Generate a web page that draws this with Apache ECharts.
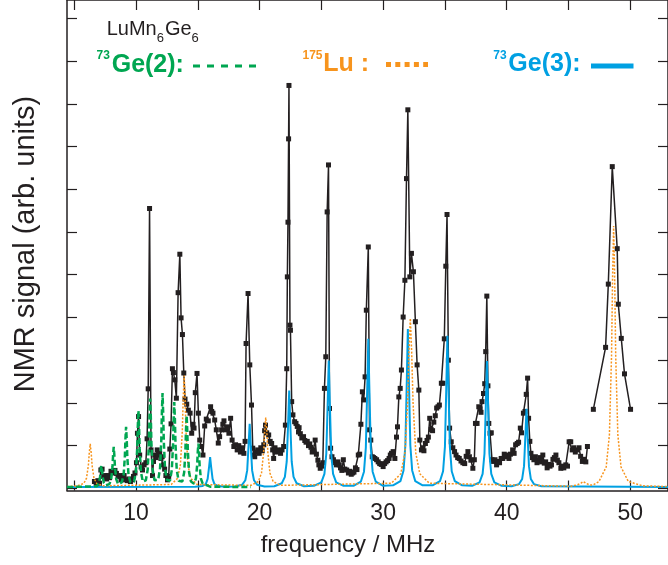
<!DOCTYPE html>
<html>
<head>
<meta charset="utf-8">
<title>LuMn6Ge6 NMR</title>
<script src="https://cdn.jsdelivr.net/npm/echarts@6.0.0/dist/echarts.min.js"></script>
<style>
html, body { margin: 0; padding: 0; background: #fff; }
#chart { width: 668px; height: 565px; }
</style>
</head>
<body>
<div id="chart"></div>
<script>
// measured spectrum, [frequency MHz, signal]
var nmrData = [
  [6.64,0.16],[6.78,0.1],[6.92,0.18],[7.05,0.12],[7.16,0.43],[7.26,0.45],[7.38,0.28],[7.5,0.3],[7.62,0.22],[7.74,0.3],
  [7.86,0.25],[7.98,0.4],[8.06,0.36],[8.18,0.39],[8.3,0.42],[8.42,0.35],[8.55,0.28],[8.67,0.3],[8.79,0.2],[8.92,0.24],
  [9.04,0.3],[9.16,0.2],[9.3,0.18],[9.43,0.22],[9.55,0.16],[9.68,0.2],[9.8,0.28],[9.92,0.36],[10.04,0.6],[10.12,1.29],
  [10.21,1.68],[10.3,0.78],[10.42,0.5],[10.53,0.43],[10.66,0.55],[10.8,0.6],[10.9,1.16],[10.99,2.33],[11.1,6.55],[11.22,0.9],
  [11.34,0.3],[11.42,0.63],[11.52,0.78],[11.62,0.72],[11.72,0.9],[11.82,0.78],[11.92,0.82],[12.02,0.7],[12.12,0.74],[12.22,0.55],
  [12.32,0.45],[12.42,0.3],[12.55,0.2],[12.65,0.28],[12.74,0.92],[12.84,1.51],[12.95,2.8],[13.03,2.71],[13.14,2.54],[13.27,2.11],
  [13.41,4.58],[13.55,5.48],[13.65,3.99],[13.76,3.6],[13.87,2.7],[13.97,2.09],[14.11,1.97],[14.24,1.83],[14.38,1.76],[14.51,1.29],
  [14.62,1.5],[14.7,1.41],[14.8,2.24],[14.94,2.69],[15.05,1.76],[15.16,1.13],[15.29,0.98],[15.42,0.78],[15.56,1.46],[15.69,1.62],
  [15.85,1.58],[16.04,1.91],[16.13,1.8],[16.23,1.76],[16.37,1.6],[16.5,1.37],[16.66,1.06],[16.77,1.21],[16.93,1.37],[17.03,1.5],
  [17.12,1.58],[17.25,1.37],[17.38,1.44],[17.52,1.29],[17.66,1.64],[17.78,1.13],[17.92,0.98],[18.06,1.02],[18.19,0.9],[18.32,1.0],
  [18.45,0.85],[18.6,0.95],[18.73,0.82],[18.83,1.1],[18.91,3.39],[19.07,4.56],[19.21,2.89],[19.35,1.95],[19.45,0.94],[19.53,0.78],
  [19.61,0.74],[19.72,0.85],[19.85,0.9],[19.97,0.82],[20.1,0.95],[20.22,0.88],[20.34,1.02],[20.41,1.35],[20.48,1.48],[20.58,1.3],
  [20.74,1.25],[20.86,1.1],[20.98,1.05],[21.06,0.9],[21.14,0.7],[21.25,0.95],[21.36,0.85],[21.47,0.9],[21.58,0.88],[21.7,0.82],
  [21.82,0.9],[21.95,0.98],[22.09,1.48],[22.2,2.8],[22.25,4.95],[22.3,6.23],[22.35,8.18],[22.38,9.43],[22.46,3.82],[22.5,3.7],
  [22.6,2.03],[22.7,1.72],[22.84,1.56],[22.95,1.52],[23.05,1.45],[23.15,1.32],[23.2,1.42],[23.3,1.28],[23.42,1.18],[23.56,1.21],
  [23.66,1.12],[23.76,1.08],[23.86,1.1],[23.96,1.0],[24.06,1.04],[24.16,0.96],[24.26,0.85],[24.36,0.9],[24.5,1.13],[24.6,0.8],
  [24.72,0.66],[24.8,0.55],[24.91,0.47],[25.02,0.52],[25.12,0.6],[25.25,2.34],[25.36,3.08],[25.47,6.47],[25.58,7.57],[25.66,1.87],
  [25.75,0.94],[25.86,0.74],[25.98,0.67],[26.1,0.6],[26.22,0.55],[26.34,0.62],[26.45,0.55],[26.55,0.48],[26.66,0.42],[26.78,0.67],
  [26.9,0.45],[27.05,0.43],[27.19,0.36],[27.3,0.4],[27.42,0.33],[27.53,0.36],[27.64,0.38],[27.76,0.48],[27.88,0.44],[27.99,0.78],
  [28.1,0.8],[28.2,1.5],[28.32,2.26],[28.43,2.07],[28.54,2.61],[28.64,4.17],[28.8,5.65],[28.9,1.37],[29.0,1.13],[29.12,0.74],
  [29.22,0.72],[29.33,0.7],[29.47,0.67],[29.6,0.62],[29.72,0.58],[29.85,0.56],[30.0,0.51],[30.12,0.58],[30.24,0.62],[30.36,0.65],
  [30.48,0.7],[30.58,0.78],[30.68,0.82],[30.81,0.86],[30.95,0.7],[31.08,1.2],[31.16,1.44],[31.27,2.14],[31.38,2.34],[31.48,2.77],
  [31.62,4.01],[31.76,4.87],[31.89,7.25],[32.0,8.86],[32.16,4.95],[32.29,5.5],[32.45,5.07],[32.61,3.9],[32.75,2.89],[32.89,2.3],
  [32.97,1.13],[33.1,0.9],[33.2,0.95],[33.3,0.88],[33.42,1.05],[33.55,1.12],[33.66,1.2],[33.77,1.64],[33.88,1.38],[34.0,1.35],
  [34.1,1.55],[34.22,1.7],[34.33,1.88],[34.44,1.91],[34.55,1.95],[34.71,2.46],[34.84,2.46],[34.95,3.5],[35.07,5.2],[35.17,6.41],
  [35.28,3.0],[35.38,1.41],[35.51,1.09],[35.64,0.95],[35.78,0.86],[35.9,0.78],[36.03,0.72],[36.16,0.7],[36.3,0.64],[36.45,0.6],
  [36.6,0.58],[36.72,0.75],[36.86,0.86],[36.98,0.74],[37.1,0.66],[37.26,0.47],[37.38,0.67],[37.47,1.52],[37.6,1.52],[37.74,1.91],
  [37.85,1.86],[37.92,1.78],[38.0,2.03],[38.12,2.22],[38.22,2.45],[38.3,3.2],[38.39,4.5],[38.48,2.4],[38.55,1.52],[38.65,1.29],
  [38.75,1.3],[38.81,0.67],[38.92,0.63],[39.05,0.67],[39.18,0.55],[39.3,0.63],[39.42,0.6],[39.55,0.7],[39.68,0.7],[39.8,0.8],
  [39.92,0.74],[40.05,0.78],[40.18,0.7],[40.3,0.8],[40.48,0.9],[40.6,0.82],[40.72,1.02],[40.85,1.05],[40.96,1.08],[41.1,1.41],
  [41.2,1.3],[41.35,1.76],[41.48,1.8],[41.58,2.2],[41.69,2.58],[41.77,1.64],[41.87,1.1],[41.96,0.82],[42.08,0.72],[42.2,0.67],
  [42.32,0.74],[42.45,0.6],[42.58,0.65],[42.7,0.72],[42.82,0.62],[42.92,0.78],[43.04,0.59],[43.15,0.62],[43.27,0.48],[43.38,0.56],
  [43.5,0.52],[43.62,0.55],[43.74,0.68],[43.86,0.72],[43.98,0.78],[44.1,0.66],[44.22,0.6],[44.38,0.47],[44.5,0.52],[44.62,0.48],
  [44.78,0.55],[44.92,0.52],[45.05,1.09],[45.18,1.09],[45.3,0.9],[45.42,0.95],[45.55,0.85],[45.72,0.9],[45.85,0.95],[45.98,0.75],
  [46.12,0.63],[46.25,0.68],[46.4,0.62],[46.53,0.98]
];
// second measured run around the Lu line
var nmrDataLu = [
  [47.01,1.85],[48.0,3.3],[48.22,4.78],[48.54,7.53],[48.94,5.61],[49.03,4.31],[49.27,3.51],[49.53,2.68],[50.02,1.85]
];
// simulated 73Ge(2)
var ge2Sim = [
  [4.42,0.03],[6.85,0.05],
  [7.0,0.13],[7.1,0.28],[7.15,0.43],[7.2,0.53],[7.25,0.43],[7.3,0.28],[7.4,0.13],[7.55,0.07],
  [7.85,0.1],[8.0,0.22],[8.1,0.5],[8.15,0.78],[8.2,0.97],[8.25,0.78],[8.3,0.5],[8.4,0.22],[8.55,0.1],
  [8.85,0.14],[9.0,0.31],[9.1,0.73],[9.15,1.16],[9.2,1.44],[9.25,1.16],[9.3,0.73],[9.4,0.31],[9.55,0.14],
  [9.85,0.16],[10.0,0.39],[10.1,0.93],[10.15,1.46],[10.2,1.82],[10.25,1.46],[10.3,0.93],[10.4,0.39],[10.55,0.16],
  [10.8,0.19],[10.95,0.44],[11.05,1.06],[11.1,1.69],[11.15,2.1],[11.2,1.69],[11.25,1.06],[11.35,0.44],[11.5,0.19],
  [11.8,0.2],[11.95,0.47],[12.05,1.13],[12.1,1.79],[12.15,2.23],[12.2,1.79],[12.25,1.13],[12.35,0.47],[12.5,0.2],
  [12.75,0.18],[12.9,0.43],[13.0,1.03],[13.05,1.62],[13.1,2.02],[13.15,1.62],[13.2,1.03],[13.3,0.43],[13.45,0.18],
  [13.75,0.16],[13.9,0.37],[14.0,0.87],[14.05,1.37],[14.1,1.71],[14.15,1.37],[14.2,0.87],[14.3,0.37],[14.45,0.16],
  [14.7,0.11],[14.85,0.23],[14.95,0.54],[15.0,0.85],[15.05,1.05],[15.1,0.85],[15.15,0.54],[15.25,0.23],[15.4,0.11],
  [16.0,0.04],[19.3,0.03]
];
// simulated 175Lu
var lu175Sim = [
  [4.42,0.04],[5.25,0.06],[5.78,0.115],[6.0,0.24],[6.15,0.54],[6.225,0.84],[6.3,1.04],[6.375,0.84],[6.45,0.54],[6.6,0.24],[6.82,0.115],[7.35,0.06],
  [12.85,0.09],[13.37,0.235],[13.6,0.56],[13.75,1.34],[13.825,2.12],[13.9,2.64],[13.975,2.12],[14.05,1.34],[14.2,0.56],[14.43,0.235],[14.95,0.09],
  [19.31,0.07],[19.9,0.16],[20.16,0.36],[20.33,0.85],[20.415,1.34],[20.5,1.66],[20.585,1.34],[20.67,0.85],[20.84,0.36],[21.1,0.16],[21.69,0.07],
  [30.66,0.12],[31.43,0.34],[31.76,0.83],[31.98,2.01],[32.09,3.19],[32.2,3.98],[32.31,3.19],[32.42,2.01],[32.64,0.83],[32.97,0.34],[33.74,0.12],
  [45.2,0.05],[45.7,0.08],[46.0,0.12],[46.2,0.16],[46.4,0.12],[46.7,0.08],[47.0,0.08],
  [47.46,0.16],[48.05,0.5],[48.31,1.26],[48.48,3.09],[48.565,4.92],[48.65,6.14],[48.735,4.92],[48.82,3.09],[48.99,1.26],[49.25,0.5],[49.84,0.16],
  [51.0,0.06],[53.05,0.04]
];
// simulated 73Ge(3)
var ge3Sim = [
  [4.42,0.03],
  [14.8,0.037],[15.4,0.057],[15.65,0.1],[15.8,0.22],[15.92,0.51],[16.0,0.73],[16.08,0.51],[16.2,0.22],[16.35,0.1],[16.6,0.057],[17.2,0.037],
  [18.0,0.045],[18.6,0.086],[18.85,0.19],[19.0,0.42],[19.12,1.05],[19.2,1.51],[19.28,1.05],[19.4,0.42],[19.55,0.19],[19.8,0.086],[20.4,0.045],
  [21.2,0.05],[21.8,0.12],[22.05,0.27],[22.2,0.63],[22.32,1.59],[22.4,2.29],[22.48,1.59],[22.6,0.63],[22.75,0.27],[23.0,0.12],[23.6,0.05],
  [24.4,0.06],[25.0,0.14],[25.25,0.34],[25.4,0.81],[25.52,2.07],[25.6,2.99],[25.68,2.07],[25.8,0.81],[25.95,0.34],[26.2,0.14],[26.8,0.06],
  [27.6,0.06],[28.2,0.16],[28.45,0.39],[28.6,0.95],[28.72,2.42],[28.8,3.5],[28.88,2.42],[29.0,0.95],[29.15,0.39],[29.4,0.16],[30.0,0.06],
  [30.8,0.07],[31.4,0.17],[31.65,0.42],[31.8,1.01],[31.92,2.58],[32.0,3.73],[32.08,2.58],[32.2,1.01],[32.35,0.42],[32.6,0.17],[33.2,0.07],
  [34.0,0.07],[34.6,0.17],[34.85,0.4],[35.0,0.97],[35.12,2.47],[35.2,3.57],[35.28,2.47],[35.4,0.97],[35.55,0.4],[35.8,0.17],[36.4,0.07],
  [37.2,0.06],[37.8,0.14],[38.05,0.34],[38.2,0.81],[38.32,2.07],[38.4,2.98],[38.48,2.07],[38.6,0.81],[38.75,0.34],[39.0,0.14],[39.6,0.06],
  [40.4,0.05],[41.0,0.1],[41.25,0.22],[41.4,0.52],[41.52,1.29],[41.6,1.86],[41.68,1.29],[41.8,0.52],[41.95,0.22],[42.2,0.1],[42.8,0.05],
  [53.05,0.03]
];
var xTickValues = [5, 10, 15, 20, 25, 30, 35, 40, 45, 50];
var xLabelValues = [10, 20, 30, 40, 50];
var yTickValues = [0, 1, 2, 3, 4, 5, 6, 7, 8, 9, 10, 11];

var BLACK = '#231f20';
var GREEN = '#00a651';
var ORANGE = '#f7941d';
var BLUE = '#00a0e2';
var FONT = '"Liberation Sans", Arial, Helvetica, sans-serif';

var chart = echarts.init(document.getElementById('chart'));

function frameAxis(pos, isX, showLabel) {
    var ax = {
        type: 'value',
        position: pos,
        scale: false,
        splitLine: { show: false },
        axisLine: { show: true, onZero: false, lineStyle: { color: BLACK, width: 1.5 } },
        axisTick: {
            show: true,
            inside: true,
            length: 10,
            customValues: isX ? xTickValues : yTickValues,
            lineStyle: { color: BLACK, width: 1.2 }
        },
        axisLabel: { show: false }
    };
    if (isX) {
        ax.min = 4.42;
        ax.max = 53.05;
    } else {
        ax.min = -0.05;
        ax.max = 11.43;
    }
    if (showLabel) {
        ax.axisLabel = {
            show: true,
            customValues: xLabelValues,
            margin: 12,
            color: BLACK,
            fontSize: 23,
            fontFamily: FONT
        };
    }
    return ax;
}

function txt(x, y, text, size, color, bold) {
    return {
        type: 'text',
        x: x,
        y: y,
        silent: true,
        style: {
            text: text,
            fill: color,
            font: (bold ? 'bold ' : '') + size + 'px ' + FONT,
            align: 'left',
            verticalAlign: 'middle'
        }
    };
}

chart.setOption({
    animation: false,
    backgroundColor: '#fff',
    grid: { left: 67, right: -3, top: -1, bottom: 74.5 },
    xAxis: [frameAxis('bottom', true, true), frameAxis('top', true, false)],
    yAxis: [frameAxis('left', false, false), frameAxis('right', false, false)],
    series: [
        {
            name: 'data', type: 'line', data: nmrData, z: 2,
            symbol: 'rect', symbolSize: 5, showSymbol: true,
            itemStyle: { color: BLACK },
            lineStyle: { color: BLACK, width: 1.5 }
        },
        {
            name: 'data2', type: 'line', data: nmrDataLu, z: 2,
            symbol: 'rect', symbolSize: 5,
            itemStyle: { color: BLACK },
            lineStyle: { color: BLACK, width: 1.5 }
        },
        {
            name: 'Ge3', type: 'line', data: ge3Sim, z: 3, symbol: 'none',
            lineStyle: { color: BLUE, width: 2 }
        },
        {
            name: 'Lu', type: 'line', data: lu175Sim, z: 4, symbol: 'none',
            lineStyle: { color: ORANGE, width: 1.5, type: [2, 1.6] }
        },
        {
            name: 'Ge2', type: 'line', data: ge2Sim, z: 5, symbol: 'none',
            lineStyle: { color: GREEN, width: 2.5, type: [6, 3] }
        }
    ],
    graphic: [
        {
            type: 'text', x: 26, y: 244, rotation: Math.PI / 2, silent: true,
            style: { text: 'NMR signal (arb. units)', fill: BLACK, font: '29px ' + FONT, align: 'center', verticalAlign: 'middle' }
        },
        {
            type: 'text', x: 348, y: 545, silent: true,
            style: { text: 'frequency / MHz', fill: BLACK, font: '24px ' + FONT, align: 'center', verticalAlign: 'middle' }
        },
        txt(106.7, 29, 'LuMn', 20, BLACK, false),
        txt(156.7, 38, '6', 13, BLACK, false),
        txt(165, 29, 'Ge', 20, BLACK, false),
        txt(191.5, 38, '6', 13, BLACK, false),

        txt(96.5, 56, '73', 12, GREEN, true),
        txt(111.7, 65, 'Ge(2):', 25, GREEN, true),
        {
            type: 'line', silent: true,
            shape: { x1: 193, y1: 66, x2: 262, y2: 66 },
            style: { stroke: GREEN, lineWidth: 3, lineDash: [7, 7] }
        },

        txt(302.5, 56, '175', 12, ORANGE, true),
        txt(323.3, 64, 'Lu :', 25, ORANGE, true),
        {
            type: 'line', silent: true,
            shape: { x1: 386, y1: 64.5, x2: 428, y2: 64.5 },
            style: { stroke: ORANGE, lineWidth: 5, lineDash: [5, 4.3] }
        },

        txt(493.3, 56, '73', 12, BLUE, true),
        txt(508.3, 64, 'Ge(3):', 25, BLUE, true),
        {
            type: 'line', silent: true,
            shape: { x1: 591, y1: 66, x2: 633.5, y2: 66 },
            style: { stroke: BLUE, lineWidth: 5 }
        }
    ]
});
</script>
</body>
</html>
